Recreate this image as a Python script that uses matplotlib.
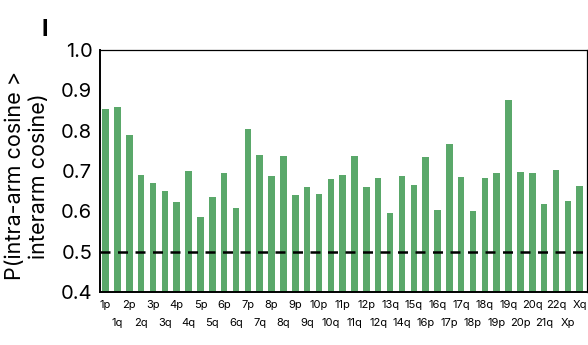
import matplotlib
matplotlib.use("Agg")
from matplotlib import pyplot as plt
import numpy as np

arms = ["1p", "1q", "2p", "2q", "3p", "3q", "4p", "4q", "5p", "5q", "6p", "6q",
        "7p", "7q", "8p", "8q", "9p", "9q", "10p", "10q", "11p", "11q", "12p", "12q",
        "13q", "14q", "15q", "16p", "16q", "17p", "17q", "18p", "18q", "19p", "19q",
        "20p", "20q", "21q", "22q", "Xp", "Xq"]
prob = [0.854, 0.859, 0.790, 0.690, 0.670, 0.651, 0.622, 0.701, 0.587, 0.635, 0.695, 0.609,
        0.804, 0.740, 0.687, 0.736, 0.640, 0.661, 0.644, 0.680, 0.691, 0.736, 0.661, 0.682,
        0.596, 0.688, 0.665, 0.735, 0.604, 0.768, 0.685, 0.600, 0.683, 0.696, 0.877,
        0.697, 0.694, 0.617, 0.702, 0.625, 0.662]
chance = 0.5

plt.rcParams["font.family"] = ["Inter", "DejaVu Sans"]

fig = plt.figure(figsize=(5.88, 3.45), dpi=100)
ax = fig.add_axes([0.170, 0.1536, 0.828, 0.7014])

x = np.arange(len(arms))
ax.bar(x, prob, width=0.55, color="#5aa86a", zorder=2)
ax.axhline(chance, color="black", linestyle=(0, (4, 3)), linewidth=1.8, zorder=3)

ax.set_ylim(0.4, 1.0)
ax.set_xlim(-0.48, 40.6)
ax.set_yticks([0.4, 0.5, 0.6, 0.7, 0.8, 0.9, 1.0])
ax.set_yticklabels(["0.4", "0.5", "0.6", "0.7", "0.8", "0.9", "1.0"])
ax.tick_params(axis="y", labelsize=14.5, length=0, pad=5.5)

# alternate the arm labels on two rows
ax.set_xticks(x[::2])
ax.set_xticklabels(arms[::2], fontsize=8)
ax.set_xticks(x[1::2], minor=True)
ax.set_xticklabels(arms[1::2], minor=True, fontsize=8)
ax.tick_params(axis="x", which="major", length=0, pad=6)
ax.tick_params(axis="x", which="minor", length=0, pad=18.5)

for s in ["left", "bottom"]:
    ax.spines[s].set_linewidth(1.4)
for s in ["top", "right"]:
    ax.spines[s].set_linewidth(0.9)

ax.set_ylabel("P(intra-arm cosine >\ninterarm cosine)", fontsize=15.5, va="center",
              linespacing=1.2)
ax.yaxis.set_label_coords(-0.150, 0.48)
fig.text(0.070, 0.912, "l", fontsize=17, fontweight="bold", ha="left", va="center")

fig.savefig("out.png", dpi=100)
